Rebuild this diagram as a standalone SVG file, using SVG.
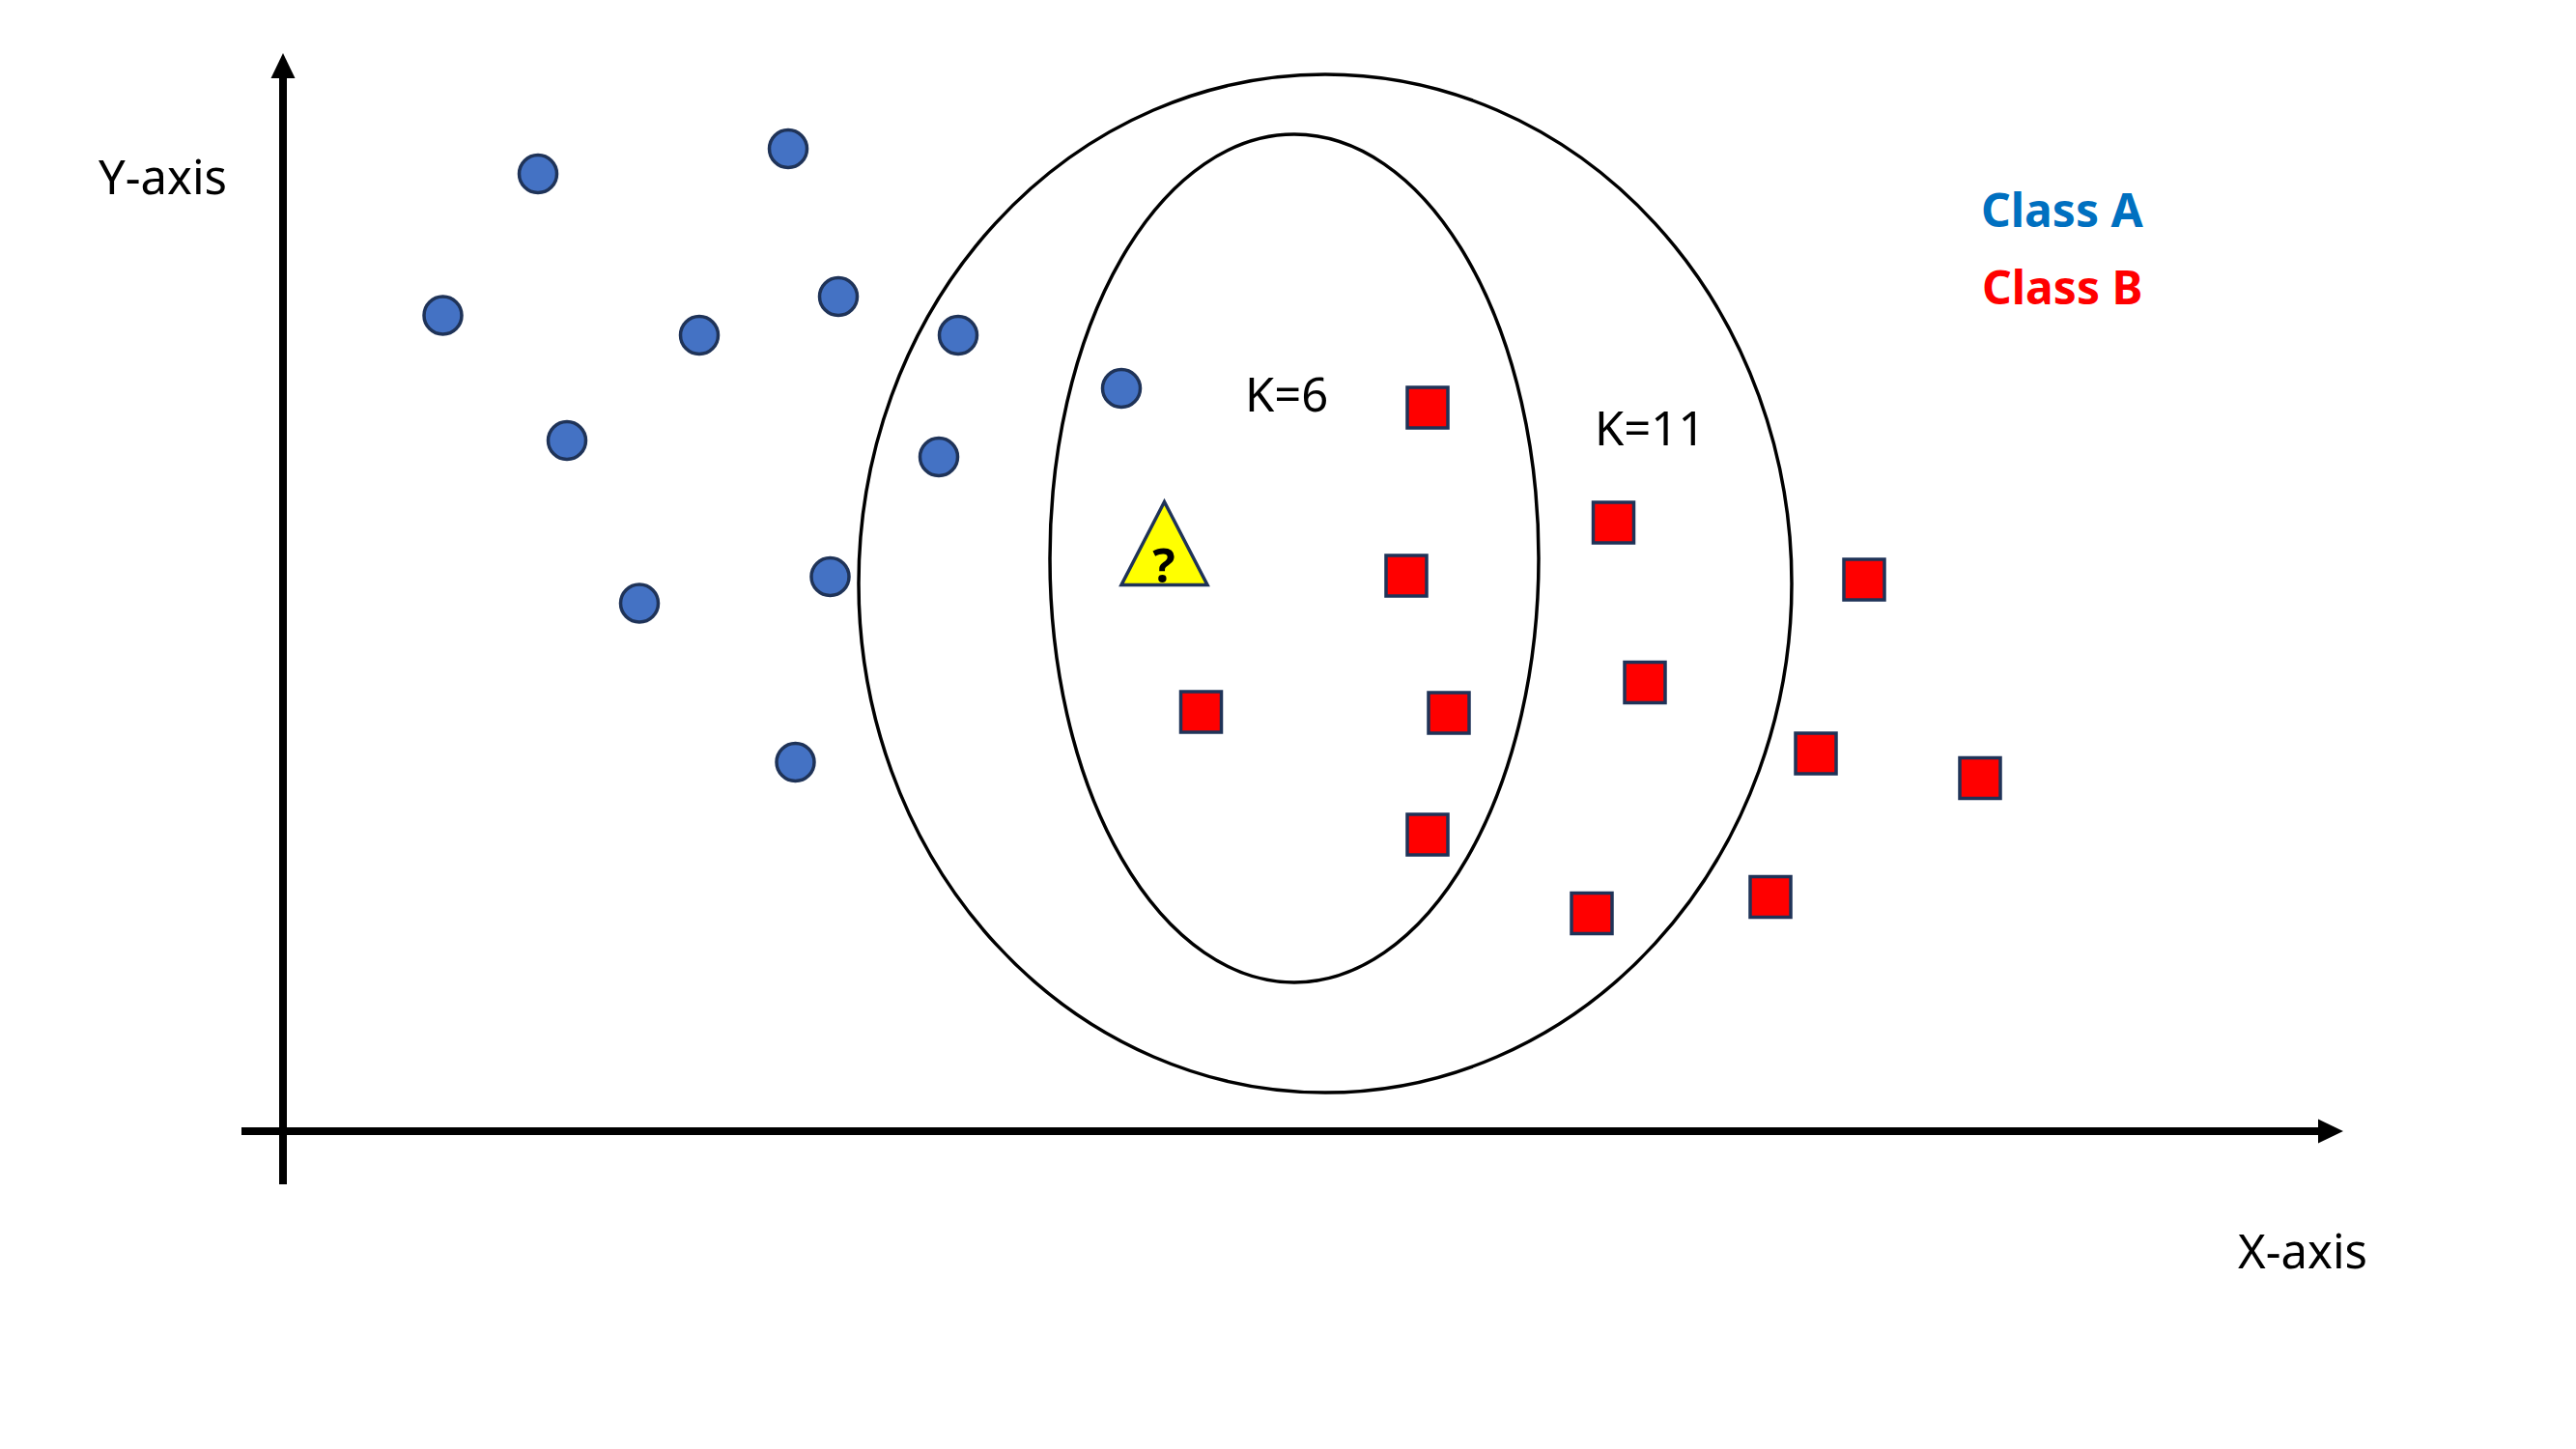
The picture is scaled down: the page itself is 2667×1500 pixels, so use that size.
<svg xmlns="http://www.w3.org/2000/svg" width="2667" height="1500" viewBox="0 0 2667 1500">
<style>
.t{font-family:"Noto Sans","Open Sans","DejaVu Sans",sans-serif;font-size:49px;fill:#000}
.b{font-weight:bold;font-size:48px}
.pa{fill:#4472C4;stroke:#1F3358;stroke-width:3.5}
.pb{fill:#FF0000;stroke:#1F3358;stroke-width:3.5}
.ring{fill:none;stroke:#000;stroke-width:3.5}
.ax{stroke:#000;stroke-width:8;fill:none}
</style>
<rect width="2667" height="1500" fill="#fff"/>
<g id="axes">
<line class="ax" x1="293" y1="1226" x2="293" y2="78"/>
<polygon points="293,55 280.5,81 305.5,81" fill="#000"/>
<line class="ax" x1="250" y1="1171" x2="2402" y2="1171"/>
<polygon points="2426,1171 2400,1158.5 2400,1183.5" fill="#000"/>
</g>
<g id="regions">
<ellipse id="k11" class="ring" cx="1372" cy="604" rx="483" ry="527"/>
<ellipse id="k6" class="ring" cx="1340" cy="578" rx="253" ry="439"/>
</g>
<g id="classA">
<circle class="pa" cx="557" cy="180" r="19.5"/>
<circle class="pa" cx="816" cy="154" r="19.5"/>
<circle class="pa" cx="458.5" cy="326.5" r="19.5"/>
<circle class="pa" cx="724" cy="347" r="19.5"/>
<circle class="pa" cx="868" cy="307" r="19.5"/>
<circle class="pa" cx="992" cy="347" r="19.5"/>
<circle class="pa" cx="1161" cy="402" r="19.5"/>
<circle class="pa" cx="587" cy="456" r="19.5"/>
<circle class="pa" cx="972" cy="473" r="19.5"/>
<circle class="pa" cx="859.5" cy="597" r="19.5"/>
<circle class="pa" cx="662" cy="624.5" r="19.5"/>
<circle class="pa" cx="823.5" cy="789" r="19.5"/>
</g>
<g id="classB">
<rect class="pb" x="1457" y="401" width="42" height="42"/>
<rect class="pb" x="1649.5" y="520" width="42" height="42"/>
<rect class="pb" x="1435" y="575" width="42" height="42"/>
<rect class="pb" x="1909" y="579" width="42" height="42"/>
<rect class="pb" x="1682" y="685.5" width="42" height="42"/>
<rect class="pb" x="1222.5" y="716" width="42" height="42"/>
<rect class="pb" x="1479" y="717" width="42" height="42"/>
<rect class="pb" x="1859" y="759" width="42" height="42"/>
<rect class="pb" x="2029" y="784.5" width="42" height="42"/>
<rect class="pb" x="1457" y="843" width="42" height="42"/>
<rect class="pb" x="1812" y="907.5" width="42" height="42"/>
<rect class="pb" x="1627" y="924.5" width="42" height="42"/>
</g>
<g id="query">
<polygon points="1205.5,519.5 1161,605.5 1250,605.5" fill="#FFFF00" stroke="#1F3358" stroke-width="3.5" stroke-linejoin="miter"/>
<text class="t" x="1205" y="603" font-size="44" font-weight="bold" text-anchor="middle">?</text>
</g>
<g id="labels">
<text class="t" x="102" y="201">Y-axis</text>
<text class="t" x="2317" y="1313">X-axis</text>
<text class="t" x="1289" y="426">K=6</text>
<text class="t" x="1651" y="461">K=11</text>
<text class="t b" x="2051" y="235" style="fill:#0070C0">Class A</text>
<text class="t b" x="2052" y="315" style="fill:#FF0000">Class B</text>
</g>
</svg>
